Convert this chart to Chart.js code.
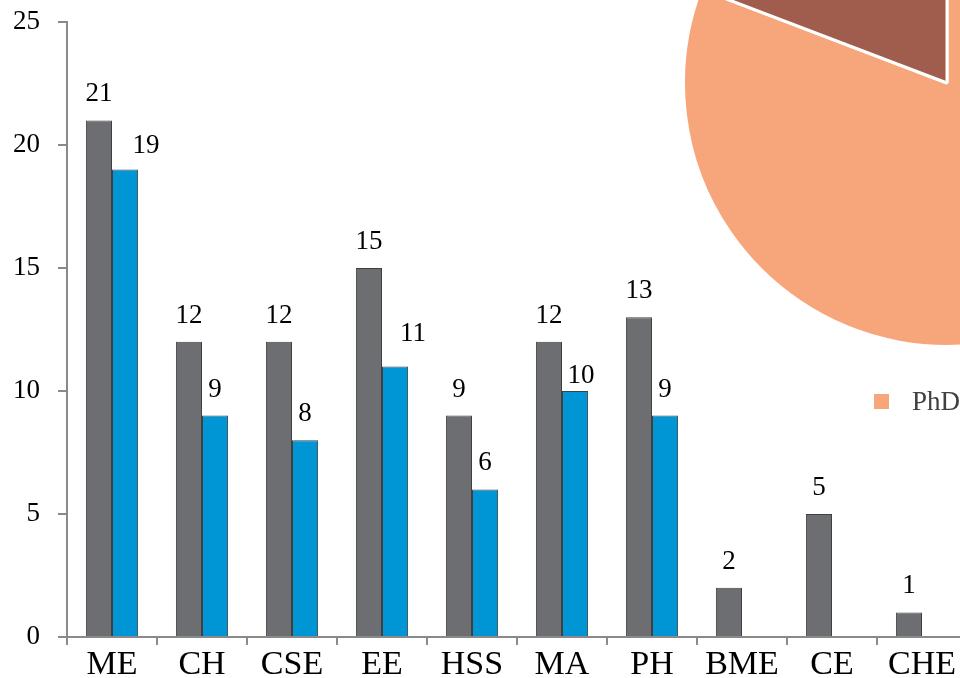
<!DOCTYPE html>
<html>
<head>
<meta charset="utf-8">
<script src="https://cdn.jsdelivr.net/npm/chart.js@4.4.1/dist/chart.umd.min.js"></script>
<style>
  html, body { margin: 0; padding: 0; background: #fff; overflow: hidden; }
  #wrap { position: relative; width: 960px; height: 678px; overflow: hidden; }
  #barBox { position: absolute; left: 0; top: 0; width: 1000px; height: 678px; }
  #pieBox { position: absolute; left: 682px; top: -182px; width: 530px; height: 530px; }
  #pieLegend { position: absolute; left: 874px; top: 386px; display: flex; white-space: nowrap;
    font-family: 'Liberation Serif', serif; font-size: 27px; color: #404040; }
  #pieLegend .item { display: flex; align-items: center; margin-right: 30px; }
  #pieLegend .swatch { width: 15px; height: 15px; margin-right: 23px; }
</style>
</head>
<body>
<div id="wrap">
  <div id="barBox"><canvas id="barChart"></canvas></div>
  <div id="pieBox"><canvas id="pieChart"></canvas></div>
  <div id="pieLegend"></div>
</div>
<script>
const departments = ['ME', 'CH', 'CSE', 'EE', 'HSS', 'MA', 'PH', 'BME', 'CE', 'CHE'];
const greyCounts = [21, 12, 12, 15, 9, 12, 13, 2, 5, 1];
const blueCounts = [19, 9, 8, 11, 6, 10, 9, null, null, null];
const yTickValues = [0, 5, 10, 15, 20, 25];

const pieLabels = ['PhD', 'MS'];
const pieValues = [80.8, 19.2];
const pieColors = ['#F7A67C', '#A05C4C'];

const SERIF = "'Liberation Serif', 'Times New Roman', serif";

// hand-placed value labels: [datasetIndex-index] -> [dx, dy]
const labelNudge = { '1-0': [21, 2], '1-3': [18, -6], '1-5': [6, 11] };

const valueLabels = {
    id: 'valueLabels',
    afterDatasetsDraw(chart) {
        const ctx = chart.ctx;
        ctx.save();
        ctx.font = '27px ' + SERIF;
        ctx.fillStyle = '#000';
        ctx.textAlign = 'center';
        ctx.textBaseline = 'middle';
        chart.data.datasets.forEach((ds, di) => {
            chart.getDatasetMeta(di).data.forEach((bar, i) => {
                const v = ds.data[i];
                if (v === null || v === undefined) return;
                const n = labelNudge[di + '-' + i] || [0, 0];
                ctx.fillText(String(v), bar.x + n[0], bar.y - 26 + n[1]);
            });
        });
        ctx.restore();
    }
};

const axisGrey = '#8a8a8a';

new Chart(document.getElementById('barChart').getContext('2d'), {
    type: 'bar',
    data: {
        labels: departments,
        datasets: [{
            data: greyCounts,
            backgroundColor: '#6D6E71',
            borderColor: '#404040',
            borderWidth: 1,
            categoryPercentage: 0.58,
            barPercentage: 1.0
        }, {
            data: blueCounts,
            backgroundColor: '#0096D6',
            borderColor: '#404040',
            borderWidth: 1,
            categoryPercentage: 0.58,
            barPercentage: 1.0
        }]
    },
    options: {
        responsive: true,
        maintainAspectRatio: false,
        animation: false,
        layout: {padding: {top: 22, right: 33, left: 0, bottom: 0}},
        plugins: {legend: {display: false}, tooltip: {enabled: false}},
        scales: {
            x: {
                grid: {offset: true, drawOnChartArea: false, drawTicks: true, tickLength: 8, color: axisGrey, lineWidth: 2},
                border: {color: axisGrey, width: 2},
                ticks: {color: '#000', font: {family: SERIF, size: 34}, padding: 0, maxRotation: 0, autoSkip: false},
                afterFit(scale) { scale.height = 41; scale.paddingLeft = 0; scale.paddingRight = 0; }
            },
            y: {
                min: 0,
                max: 25,
                afterBuildTicks(scale) { scale.ticks = yTickValues.map(v => ({value: v})); },
                grid: {drawOnChartArea: false, drawTicks: true, tickLength: 9, color: axisGrey, lineWidth: 2},
                border: {color: axisGrey, width: 2},
                ticks: {color: '#000', font: {family: SERIF, size: 27}, padding: 18},
                afterFit(scale) { scale.width = 67; scale.paddingTop = 0; scale.paddingBottom = 0; }
            }
        }
    },
    plugins: [valueLabels]
});

new Chart(document.getElementById('pieChart').getContext('2d'), {
    type: 'pie',
    data: {
        labels: pieLabels,
        datasets: [{
            data: pieValues,
            backgroundColor: pieColors,
            borderColor: '#fff',
            borderWidth: 3
        }]
    },
    options: {
        responsive: true,
        maintainAspectRatio: false,
        animation: false,
        layout: {padding: 0},
        plugins: {legend: {display: false}, tooltip: {enabled: false}}
    }
});

// legend for the pie
const legendEl = document.getElementById('pieLegend');
pieLabels.forEach((lab, i) => {
    const item = document.createElement('div');
    item.className = 'item';
    const sw = document.createElement('span');
    sw.className = 'swatch';
    sw.style.background = pieColors[i];
    item.appendChild(sw);
    item.appendChild(document.createTextNode(lab));
    legendEl.appendChild(item);
});
</script>
</body>
</html>
